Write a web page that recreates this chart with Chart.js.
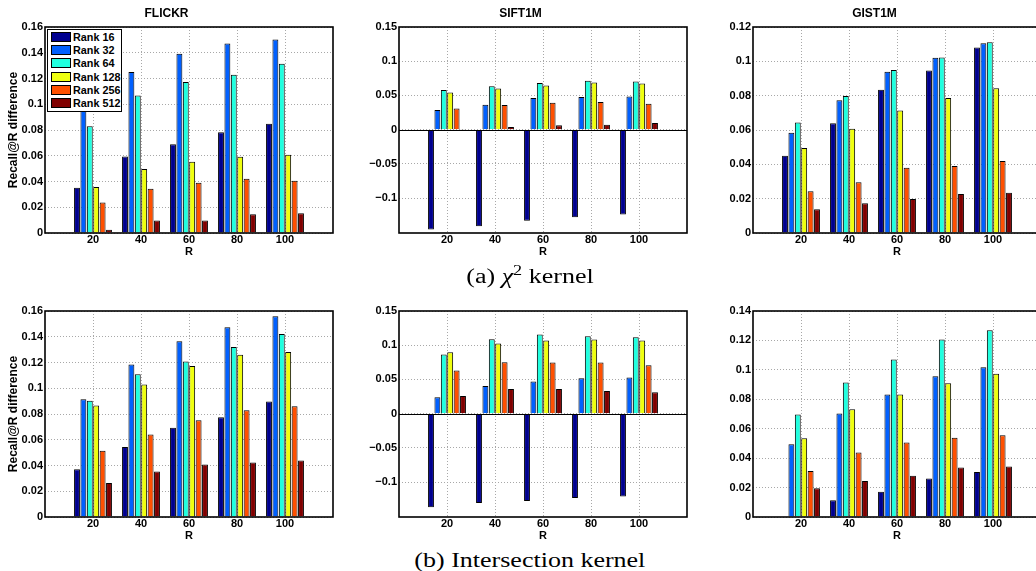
<!DOCTYPE html>
<html>
<head>
<meta charset="utf-8">
<script src="https://cdn.jsdelivr.net/npm/chart.js@4"></script>
<style>
  html, body { margin: 0; padding: 0; background: #fff; overflow: hidden; width: 1036px; height: 571px; }
  canvas { position: absolute; }
  .caption { position: absolute; left: 0; width: 1060px; text-align: center; font-family: "Liberation Serif", "Times New Roman", serif; font-size: 20px; color: #000; line-height: 24px; }
  .caption span.inner { display: inline-block; transform: scaleX(1.3); }
  .caption sup { font-size: 70%; vertical-align: 8px; line-height: 0; }
  #legend { position: absolute; left: 47px; top: 29px; width: 73px; border: 1px solid #000; background: #fff; padding: 0.5px 0 1px 0;
            font: bold 10.8px "Liberation Sans", Arial, sans-serif; color: #000; white-space: nowrap; }
  #legend .row { height: 13.2px; display: flex; align-items: center; }
  #legend .sw { flex: none; width: 18px; height: 8px; border: 1px solid #000; margin: 0 2px 0 3px; }
</style>
</head>
<body>
<canvas id="c1" width="338" height="263" style="left:0px;top:0px;width:338px;height:263px"></canvas>
<canvas id="c2" width="338" height="263" style="left:354px;top:0px;width:338px;height:263px"></canvas>
<canvas id="c3" width="338" height="263" style="left:708px;top:0px;width:338px;height:263px"></canvas>
<canvas id="c4" width="338" height="263" style="left:0px;top:284px;width:338px;height:263px"></canvas>
<canvas id="c5" width="338" height="263" style="left:354px;top:284px;width:338px;height:263px"></canvas>
<canvas id="c6" width="338" height="263" style="left:708px;top:284px;width:338px;height:263px"></canvas>
<div id="legend"></div>
<div class="caption" style="top:264px"><span class="inner">(a) <i>χ</i><sup>2</sup> kernel</span></div>
<div class="caption" style="top:548px"><span class="inner">(b) Intersection kernel</span></div>

<script>
const rValues = [20, 40, 60, 80, 100];
const rankLabels = ['Rank 16', 'Rank 32', 'Rank 64', 'Rank 128', 'Rank 256', 'Rank 512'];
// jet colormap picks
const rankColors = ['rgb(0,0,143)', 'rgb(0,96,255)', 'rgb(32,255,223)', 'rgb(239,255,16)', 'rgb(255,80,0)', 'rgb(128,0,0)'];

// one row per rank (16 ... 512), one value per R
const flickrChi2 = [
    [0.0352, 0.0595, 0.0689, 0.0782, 0.0849],
    [0.1000, 0.1250, 0.1393, 0.1471, 0.1502],
    [0.0829, 0.1067, 0.1173, 0.1230, 0.1315],
    [0.0357, 0.0497, 0.0554, 0.0593, 0.0608],
    [0.0236, 0.0344, 0.0391, 0.0422, 0.0406],
    [0.0026, 0.0098, 0.0098, 0.0145, 0.0153]
];
const siftChi2 = [
    [-0.1460, -0.1413, -0.1330, -0.1280, -0.1238],
    [0.0286, 0.0364, 0.0461, 0.0476, 0.0485],
    [0.0578, 0.0636, 0.0680, 0.0714, 0.0704],
    [0.0544, 0.0602, 0.0646, 0.0689, 0.0675],
    [0.0310, 0.0359, 0.0393, 0.0403, 0.0379],
    [0.0008, 0.0039, 0.0063, 0.0073, 0.0097]
];
const gistChi2 = [
    [0.0450, 0.0639, 0.0835, 0.0946, 0.1080],
    [0.0584, 0.0773, 0.0940, 0.1021, 0.1105],
    [0.0643, 0.0798, 0.0950, 0.1023, 0.1111],
    [0.0495, 0.0608, 0.0713, 0.0786, 0.0843],
    [0.0243, 0.0295, 0.0380, 0.0390, 0.0419],
    [0.0138, 0.0173, 0.0198, 0.0227, 0.0235]
];
const flickrInt = [
    [0.0370, 0.0543, 0.0693, 0.0775, 0.0897],
    [0.0915, 0.1184, 0.1365, 0.1473, 0.1559],
    [0.0902, 0.1109, 0.1207, 0.1321, 0.1422],
    [0.0866, 0.1029, 0.1173, 0.1261, 0.1282],
    [0.0514, 0.0641, 0.0752, 0.0830, 0.0861],
    [0.0264, 0.0354, 0.0408, 0.0424, 0.0439]
];
const siftInt = [
    [-0.1369, -0.1306, -0.1277, -0.1233, -0.1209],
    [0.0238, 0.0403, 0.0471, 0.0519, 0.0529],
    [0.0864, 0.1087, 0.1155, 0.1131, 0.1117],
    [0.0898, 0.1024, 0.1068, 0.1083, 0.1068],
    [0.0631, 0.0752, 0.0748, 0.0748, 0.0709],
    [0.0257, 0.0359, 0.0359, 0.0330, 0.0311]
];
const gistInt = [
    [0.0000, 0.0113, 0.0172, 0.0262, 0.0305],
    [0.0495, 0.0703, 0.0832, 0.0957, 0.1018],
    [0.0697, 0.0914, 0.1070, 0.1206, 0.1269],
    [0.0536, 0.0733, 0.0832, 0.0909, 0.0973],
    [0.0312, 0.0439, 0.0507, 0.0538, 0.0556],
    [0.0195, 0.0244, 0.0280, 0.0337, 0.0344]
];

const flickrTicks = [0, 0.02, 0.04, 0.06, 0.08, 0.1, 0.12, 0.14, 0.16];
const siftTicks = [-0.1, -0.05, 0, 0.05, 0.1, 0.15];
const gistChi2Ticks = [0, 0.02, 0.04, 0.06, 0.08, 0.1, 0.12];
const gistIntTicks = [0, 0.02, 0.04, 0.06, 0.08, 0.1, 0.12, 0.14];

const panels = [
    { id: 'c1', title: 'FLICKR', values: flickrChi2, ticks: flickrTicks, min: 0, max: 0.16, yLabel: true },
    { id: 'c2', title: 'SIFT1M', values: siftChi2, ticks: siftTicks, min: -0.151, max: 0.15 },
    { id: 'c3', title: 'GIST1M', values: gistChi2, ticks: gistChi2Ticks, min: 0, max: 0.12 },
    { id: 'c4', title: '', values: flickrInt, ticks: flickrTicks, min: 0, max: 0.16, yLabel: true },
    { id: 'c5', title: '', values: siftInt, ticks: siftTicks, min: -0.151, max: 0.15 },
    { id: 'c6', title: '', values: gistInt, ticks: gistIntTicks, min: 0, max: 0.14 }
];

Chart.defaults.font.family = '"Liberation Sans", Arial, Helvetica, sans-serif';
Chart.defaults.font.weight = 'bold';
Chart.defaults.color = '#000';

function fmt(v) {
    if (v === 0) return '0';
    const s = String(parseFloat(Math.abs(v).toFixed(4)));
    return v < 0 ? '\u2212' + s : s;
}

// black box round the axes, plus the zero baseline
const framePlugin = {
    id: 'frame',
    afterDatasetsDraw(chart) {
        const { ctx, chartArea: a, scales } = chart;
        ctx.save();
        ctx.strokeStyle = '#000';
        ctx.lineWidth = 1;
        if (scales.y.min < 0) {
            const y0 = Math.round(scales.y.getPixelForValue(0)) + 0.5;
            ctx.beginPath();
            ctx.moveTo(a.left, y0);
            ctx.lineTo(a.right, y0);
            ctx.stroke();
        }
        ctx.lineWidth = 1.6;
        ctx.strokeRect(a.left, a.top, a.right - a.left, a.bottom - a.top);
        ctx.restore();
    }
};

panels.forEach(p => {
    const datasets = rankLabels.map((label, i) => ({
        label: label,
        data: rValues.map((r, j) => ({ x: r, y: p.values[i][j] })),
        backgroundColor: rankColors[i],
        borderColor: '#000',
        borderWidth: 1,
        categoryPercentage: 0.8,
        barPercentage: 0.92
    }));

    new Chart(document.getElementById(p.id), {
        type: 'bar',
        data: { datasets: datasets },
        options: {
            responsive: false,
            animation: false,
            layout: { padding: { left: 0, right: 5, top: p.title ? 0 : 27, bottom: 0 } },
            plugins: {
                legend: { display: false },
                tooltip: { enabled: false },
                title: {
                    display: !!p.title,
                    text: p.title,
                    color: '#000',
                    font: { size: 12, weight: 'bold' },
                    padding: { top: 6, bottom: 6.6 }
                }
            },
            scales: {
                x: {
                    type: 'linear',
                    min: 0,
                    max: 120,
                    offset: false,
                    afterBuildTicks: s => { s.ticks = rValues.map(v => ({ value: v })); },
                    afterFit: s => { s.height = 30; },
                    ticks: { padding: 0, font: { size: 11 }, callback: v => String(v) },
                    grid: { offset: false, drawTicks: false, color: '#a8a8a8' },
                    border: { display: false, dash: [1, 2] },
                    title: { display: true, text: 'R', font: { size: 11 }, padding: { top: 0, bottom: 4.4 } }
                },
                y: {
                    min: p.min,
                    max: p.max,
                    afterBuildTicks: s => { s.ticks = p.ticks.map(v => ({ value: v })); },
                    afterFit: s => { s.width = 45; },
                    ticks: { padding: 2, font: { size: 11 }, callback: v => fmt(v) },
                    grid: { drawTicks: false, color: '#a8a8a8' },
                    border: { display: false, dash: [1, 2] },
                    title: { display: !!p.yLabel, text: 'Recall@R difference', font: { size: 12 }, padding: { top: 6, bottom: 0 } }
                }
            }
        },
        plugins: [framePlugin]
    });
});

// legend box drawn over the first panel, as in the source figure
const legendBox = document.getElementById('legend');
rankLabels.forEach((label, i) => {
    const row = document.createElement('div');
    row.className = 'row';
    row.innerHTML = `<span class="sw" style="background:${rankColors[i]}"></span><span>${label}</span>`;
    legendBox.appendChild(row);
});
</script>
</body>
</html>
